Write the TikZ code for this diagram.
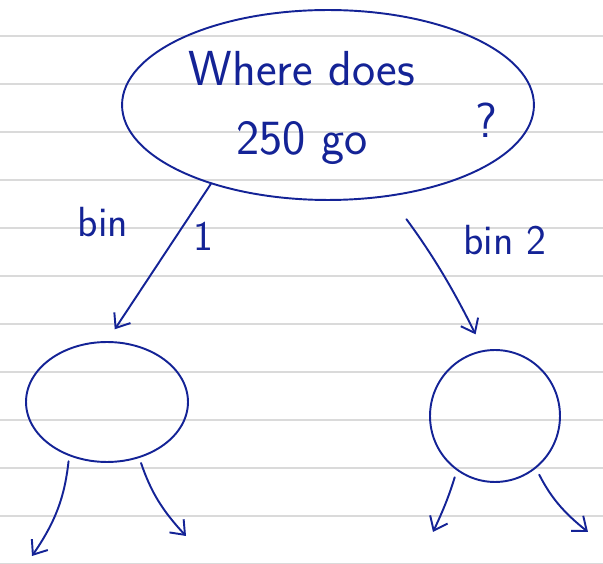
\documentclass[tikz,border=0pt]{standalone}
\usepackage{tikz}
\usetikzlibrary{shapes.geometric, arrows.meta}

\definecolor{ink}{RGB}{20,35,150}
\definecolor{paperline}{RGB}{218,218,218}

\begin{document}
\begin{tikzpicture}[x=0.02cm, y=-0.02cm, line width=1.1pt, line cap=round,
    pen/.style={draw=ink, line width=1.1pt},
    hand/.style={text=ink, font=\sffamily\fontsize{24}{28}\selectfont, inner sep=0pt},
    bigtext/.style={text=ink, font=\sffamily\fontsize{28}{39}\selectfont, align=center, inner sep=0pt},
    tip/.style={pen, -{Straight Barb[length=7pt, width=11pt]}}]

        \useasboundingbox (0,0) rectangle (603,564);

        % ==========================================
        % Ruled paper
        % ==========================================
        \foreach \y in {36,84,...,564} {
            \draw[paperline, line width=1.6pt] (0,\y) -- (603,\y);
        }

        % ==========================================
        % Question bubble (Top)
        % ==========================================
        \node[ellipse, pen, minimum width=8.24cm, minimum height=3.8cm, inner sep=0pt] (question) at (328,105) {};
        \node[bigtext] (asktext) at (302,108) {Where does\\250 go};
        \node[bigtext] (qmark) at (486,120) {?};

        % ==========================================
        % Bins (Middle)
        % ==========================================
        \node[ellipse, pen, minimum width=3.24cm, minimum height=2.4cm, inner sep=0pt] (binone) at (107,402) {};
        \node[ellipse, pen, minimum width=2.6cm, minimum height=2.64cm, inner sep=0pt] (bintwo) at (495,416) {};

        % Branches into the bins
        \draw[tip, shorten >=8pt] (question.214) -- (binone.north);
        \draw[tip, shorten <=16pt, shorten >=10pt] (question.-56) to[bend left=5] (bintwo.100);

        % Branch labels
        \node[hand] (binoneword) at (103,222) {bin};
        \node[hand] (binonenum) at (203,236) {1};
        \node[hand] (bintwolabel) at (505,240) {bin 2};

        % ==========================================
        % Next level (Bottom)
        % ==========================================
        \coordinate (oneleft) at (32,556);
        \coordinate (oneright) at (186,536);
        \coordinate (twoleft) at (433,532);
        \coordinate (tworight) at (588,532);

        \draw[tip, shorten <=3pt] (binone.235) to[bend left=14] (oneleft);
        \draw[tip, shorten <=3pt] (binone.-60) to[bend right=12] (oneright);
        \draw[tip, shorten <=4pt] (bintwo.235) to[bend left=4] (twoleft);
        \draw[tip, shorten <=4pt] (bintwo.-52) to[bend right=12] (tworight);

\end{tikzpicture}
\end{document}
